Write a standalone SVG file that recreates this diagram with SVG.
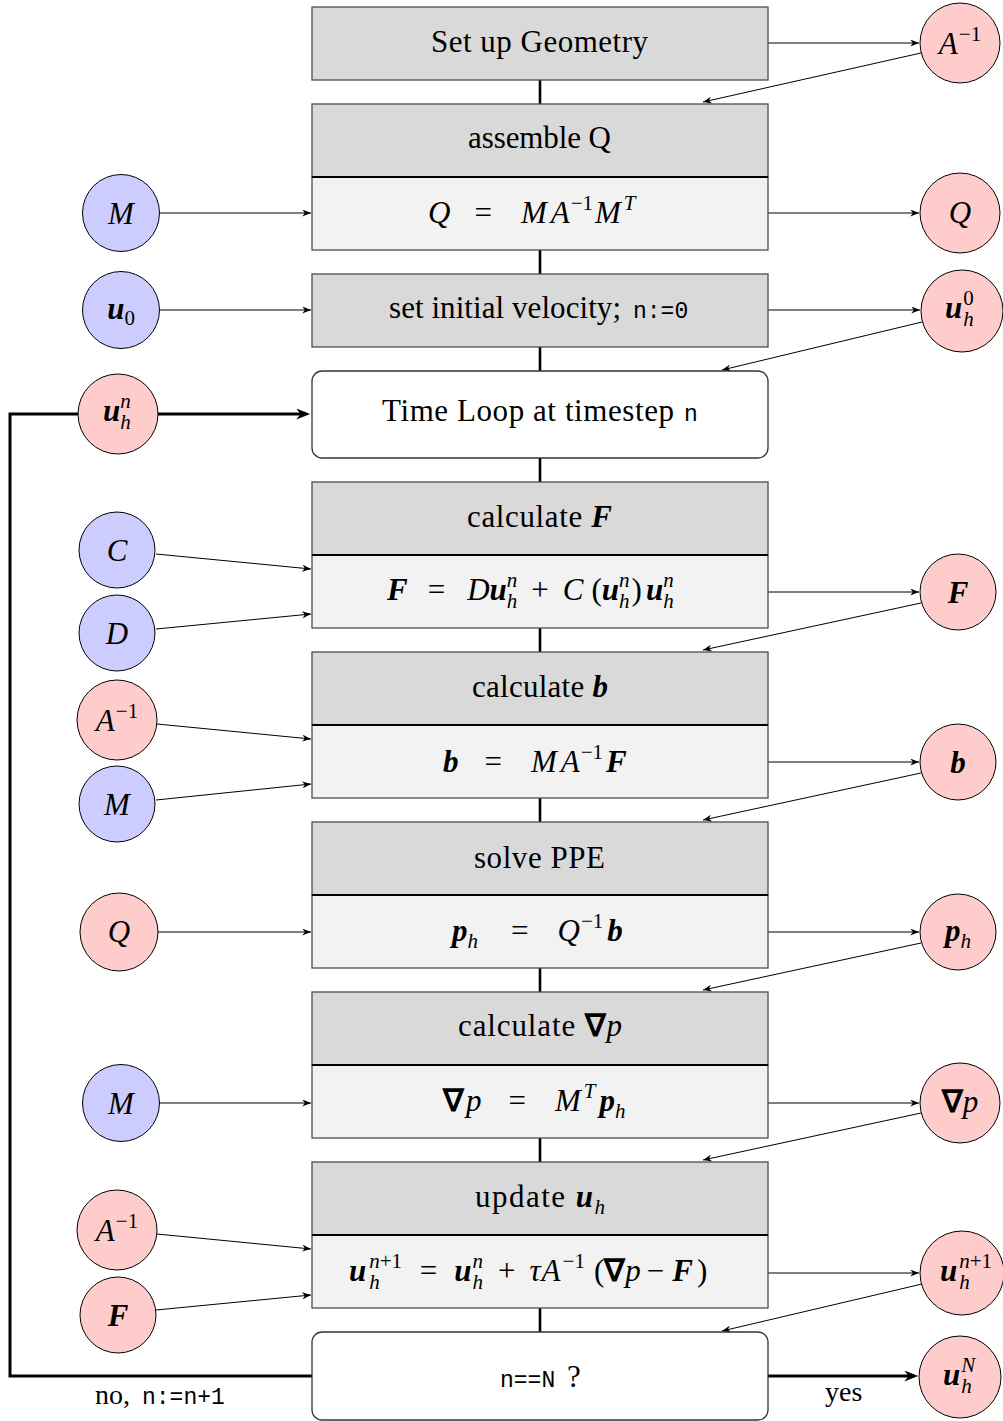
<svg xmlns="http://www.w3.org/2000/svg" width="1003" height="1421" viewBox="0 0 1003 1421">
<defs>
<style>
.t{font-family:"Liberation Serif","Times New Roman",serif;font-size:31px;fill:#000}
.m{font-size:31px}
.i{font-style:italic}
.bi{font-style:italic;font-weight:bold}
.b{font-weight:bold}
.s{font-size:21px}
.tt{font-family:"Liberation Mono",monospace;font-size:23px}
.hd{fill:#d9d9d9;stroke:#4d4d4d;stroke-width:1.3}
.bd{fill:#f2f2f2;stroke:#4d4d4d;stroke-width:1.3}
.rb{fill:#fff;stroke:#333;stroke-width:1.3}
.sep{stroke:#000;stroke-width:2.2}
.cb{fill:#ccccff;stroke:#000;stroke-width:1}
.cr{fill:#ffcccc;stroke:#000;stroke-width:1}
.ln{stroke:#000;stroke-width:1;fill:none}
.vt{stroke:#000;stroke-width:2.6}
.tk{stroke:#000;stroke-width:3;fill:none}
</style>
<marker id="a" viewBox="0 0 10 8" refX="10" refY="4" markerWidth="9" markerHeight="7" markerUnits="userSpaceOnUse" orient="auto"><path d="M0,0 L10,4 L0,8 L3,4 z" fill="#000"/></marker>
<marker id="ak" viewBox="0 0 10 8" refX="7" refY="4" markerWidth="15" markerHeight="11" markerUnits="userSpaceOnUse" orient="auto"><path d="M0,0 L10,4 L0,8 L3,4 z" fill="#000"/></marker>
</defs>

<g id="connectors">
<path class="tk" d="M312,1376 H10 V414 H306" marker-end="url(#ak)"/>
<line class="tk" x1="768" y1="1376" x2="914" y2="1376" marker-end="url(#ak)"/>
<line class="vt" x1="540" y1="80" x2="540" y2="104"/>
<line class="vt" x1="540" y1="250" x2="540" y2="274"/>
<line class="vt" x1="540" y1="347" x2="540" y2="371"/>
<line class="vt" x1="540" y1="458" x2="540" y2="482"/>
<line class="vt" x1="540" y1="628" x2="540" y2="652"/>
<line class="vt" x1="540" y1="798" x2="540" y2="822"/>
<line class="vt" x1="540" y1="968" x2="540" y2="992"/>
<line class="vt" x1="540" y1="1138" x2="540" y2="1162"/>
<line class="vt" x1="540" y1="1308" x2="540" y2="1332"/>
<line class="ln" x1="768" y1="43" x2="919" y2="43" marker-end="url(#a)"/>
<line class="ln" x1="921" y1="53" x2="703" y2="102" marker-end="url(#a)"/>
<line class="ln" x1="768" y1="213" x2="919" y2="213" marker-end="url(#a)"/>
<line class="ln" x1="768" y1="310" x2="920" y2="310" marker-end="url(#a)"/>
<line class="ln" x1="922" y1="322" x2="722" y2="370" marker-end="url(#a)"/>
<line class="ln" x1="768" y1="592" x2="919" y2="592" marker-end="url(#a)"/>
<line class="ln" x1="921" y1="603" x2="703" y2="650" marker-end="url(#a)"/>
<line class="ln" x1="768" y1="762" x2="919" y2="762" marker-end="url(#a)"/>
<line class="ln" x1="921" y1="773" x2="703" y2="820" marker-end="url(#a)"/>
<line class="ln" x1="768" y1="932" x2="919" y2="932" marker-end="url(#a)"/>
<line class="ln" x1="921" y1="943" x2="703" y2="990" marker-end="url(#a)"/>
<line class="ln" x1="768" y1="1103" x2="919" y2="1103" marker-end="url(#a)"/>
<line class="ln" x1="921" y1="1113" x2="703" y2="1160" marker-end="url(#a)"/>
<line class="ln" x1="768" y1="1273" x2="919" y2="1273" marker-end="url(#a)"/>
<line class="ln" x1="922" y1="1284" x2="722" y2="1331" marker-end="url(#a)"/>
<line class="ln" x1="160" y1="213" x2="311" y2="213" marker-end="url(#a)"/>
<line class="ln" x1="160" y1="310" x2="311" y2="310" marker-end="url(#a)"/>
<line class="ln" x1="156" y1="554" x2="311" y2="569" marker-end="url(#a)"/>
<line class="ln" x1="156" y1="629" x2="311" y2="614" marker-end="url(#a)"/>
<line class="ln" x1="157" y1="724" x2="311" y2="739" marker-end="url(#a)"/>
<line class="ln" x1="156" y1="800" x2="311" y2="784" marker-end="url(#a)"/>
<line class="ln" x1="158" y1="932" x2="311" y2="932" marker-end="url(#a)"/>
<line class="ln" x1="160" y1="1103" x2="311" y2="1103" marker-end="url(#a)"/>
<line class="ln" x1="157" y1="1234" x2="311" y2="1249" marker-end="url(#a)"/>
<line class="ln" x1="156" y1="1310" x2="311" y2="1295" marker-end="url(#a)"/>
</g>

<g id="n-geometry">
<rect class="hd" x="312" y="7" width="456" height="73"/>
<text class="t" x="431" y="52" textLength="217" lengthAdjust="spacing">Set up Geometry</text>
</g>
<g id="n-assembleQ">
<rect class="hd" x="312" y="104" width="456" height="73"/>
<rect class="bd" x="312" y="177" width="456" height="73"/>
<line class="sep" x1="312" y1="177" x2="768" y2="177"/>
<text class="t" x="468" y="148" textLength="143" lengthAdjust="spacing">assemble Q</text>
<text class="t m" x="428" y="223"><tspan class="i">Q</tspan><tspan dx="24">=</tspan><tspan class="i" dx="29">M</tspan><tspan class="i" dx="4">A</tspan><tspan class="s" dx="1" dy="-13">−1</tspan><tspan class="i" dx="2" dy="13">M</tspan><tspan class="i s" dx="3" dy="-13">T</tspan></text>
</g>
<g id="n-init">
<rect class="hd" x="312" y="274" width="456" height="73"/>
<text class="t" x="389" y="318" textLength="232" lengthAdjust="spacing">set initial velocity;</text>
<text class="tt" x="633" y="318">n:=0</text>
</g>
<g id="n-timeloop">
<rect class="rb" x="312" y="371" width="456" height="87" rx="10"/>
<text class="t" x="382" y="421" textLength="292" lengthAdjust="spacing">Time Loop at timestep</text>
<text class="tt" x="684" y="421">n</text>
</g>
<g id="n-calcF">
<rect class="hd" x="312" y="482" width="456" height="73"/>
<rect class="bd" x="312" y="555" width="456" height="73"/>
<line class="sep" x1="312" y1="555" x2="768" y2="555"/>
<text class="t" x="467" y="527" textLength="145" lengthAdjust="spacing">calculate <tspan class="bi">F</tspan></text>
<text class="t m" x="387" y="600"><tspan class="bi">F</tspan><tspan dx="20">=</tspan><tspan class="i" dx="22">D</tspan><tspan class="bi">u</tspan><tspan class="i s" dy="-13">n</tspan><tspan class="i s" dx="-10.5" dy="21">h</tspan><tspan dx="14" dy="-8">+</tspan><tspan class="i" dx="14">C</tspan><tspan dx="8">(</tspan><tspan class="bi">u</tspan><tspan class="i s" dy="-13">n</tspan><tspan class="i s" dx="-10.5" dy="21">h</tspan><tspan dx="2" dy="-8">)</tspan><tspan class="bi" dx="4">u</tspan><tspan class="i s" dy="-13">n</tspan><tspan class="i s" dx="-10.5" dy="21">h</tspan></text>
</g>
<g id="n-calcb">
<rect class="hd" x="312" y="652" width="456" height="73"/>
<rect class="bd" x="312" y="725" width="456" height="73"/>
<line class="sep" x1="312" y1="725" x2="768" y2="725"/>
<text class="t" x="472" y="697" textLength="136" lengthAdjust="spacing">calculate <tspan class="bi">b</tspan></text>
<text class="t m" x="443" y="772"><tspan class="bi">b</tspan><tspan dx="26">=</tspan><tspan class="i" dx="29">M</tspan><tspan class="i" dx="4">A</tspan><tspan class="s" dx="1" dy="-13">−1</tspan><tspan class="bi" dx="3" dy="13">F</tspan></text>
</g>
<g id="n-ppe">
<rect class="hd" x="312" y="822" width="456" height="73"/>
<rect class="bd" x="312" y="895" width="456" height="73"/>
<line class="sep" x1="312" y1="895" x2="768" y2="895"/>
<text class="t" x="474" y="868" textLength="131" lengthAdjust="spacing">solve PPE</text>
<text class="t m" x="452" y="941"><tspan class="bi">p</tspan><tspan class="i s" dy="7">h</tspan><tspan dx="33" dy="-7">=</tspan><tspan class="i" dx="29">Q</tspan><tspan class="s" dx="1" dy="-13">−1</tspan><tspan class="bi" dx="4" dy="13">b</tspan></text>
</g>
<g id="n-gradp">
<rect class="hd" x="312" y="992" width="456" height="73"/>
<rect class="bd" x="312" y="1065" width="456" height="73"/>
<line class="sep" x1="312" y1="1065" x2="768" y2="1065"/>
<text class="t" x="458" y="1036" textLength="164" lengthAdjust="spacing">calculate <tspan class="b">∇</tspan><tspan class="i">p</tspan></text>
<text class="t m" x="443" y="1111"><tspan class="b">∇</tspan><tspan class="i" dx="2">p</tspan><tspan dx="27">=</tspan><tspan class="i" dx="29">M</tspan><tspan class="i s" dx="3" dy="-13">T</tspan><tspan class="bi" dx="4" dy="13">p</tspan><tspan class="i s" dy="7">h</tspan></text>
</g>
<g id="n-update">
<rect class="hd" x="312" y="1162" width="456" height="73"/>
<rect class="bd" x="312" y="1235" width="456" height="73"/>
<line class="sep" x1="312" y1="1235" x2="768" y2="1235"/>
<text class="t" x="475" y="1207" textLength="130" lengthAdjust="spacing">update <tspan class="bi">u</tspan><tspan class="i s" dy="7">h</tspan></text>
<text class="t m" x="349" y="1281"><tspan class="bi">u</tspan><tspan class="i s" dx="3" dy="-13">n</tspan><tspan class="s">+1</tspan><tspan class="i s" dx="-32.8" dy="21">h</tspan><tspan dx="40" dy="-8">=</tspan><tspan class="bi" dx="17">u</tspan><tspan class="i s" dx="1" dy="-13">n</tspan><tspan class="i s" dx="-10.5" dy="21">h</tspan><tspan dx="15" dy="-8">+</tspan><tspan class="i" dx="14">τ</tspan><tspan class="i" dx="1">A</tspan><tspan class="s" dx="2" dy="-13">−1</tspan><tspan dx="9" dy="13">(</tspan><tspan class="b">∇</tspan><tspan class="i">p</tspan><tspan dx="6">−</tspan><tspan class="bi" dx="8">F</tspan><tspan dx="4">)</tspan></text>
</g>
<g id="n-check">
<rect class="rb" x="312" y="1332" width="456" height="88" rx="10"/>
<text class="tt" x="500" y="1387">n==N</text>
<text class="t" x="567" y="1387">?</text>
</g>

<g id="labels">
<text class="t" x="95" y="1404" style="font-size:28px">no,</text>
<text class="tt" x="142" y="1404">n:=n+1</text>
<text class="t" x="825" y="1401" style="font-size:28px">yes</text>
</g>

<g id="c-M1"><circle class="cb" cx="121" cy="213" r="38.5"/><text class="t m i" x="121" y="224" text-anchor="middle">M</text></g>
<g id="c-u0"><circle class="cb" cx="121" cy="310" r="38.5"/><text class="t m" x="121" y="319" text-anchor="middle"><tspan class="bi">u</tspan><tspan class="s" dy="6">0</tspan></text></g>
<g id="c-uhn"><circle class="cr" cx="118" cy="414" r="40"/><text class="t m" x="103" y="421"><tspan class="bi">u</tspan><tspan class="i s" dy="-13">n</tspan><tspan class="i s" dx="-10.5" dy="21">h</tspan></text></g>
<g id="c-C"><circle class="cb" cx="117" cy="550" r="38"/><text class="t m i" x="117" y="561" text-anchor="middle">C</text></g>
<g id="c-D"><circle class="cb" cx="117" cy="633" r="38"/><text class="t m i" x="117" y="644" text-anchor="middle">D</text></g>
<g id="c-Ainv1"><circle class="cr" cx="117" cy="720" r="40"/><text class="t m" x="117" y="731" text-anchor="middle"><tspan class="i">A</tspan><tspan class="s" dx="1" dy="-13">−1</tspan></text></g>
<g id="c-M2"><circle class="cb" cx="117" cy="804" r="38"/><text class="t m i" x="117" y="815" text-anchor="middle">M</text></g>
<g id="c-Q1"><circle class="cr" cx="119" cy="932" r="39"/><text class="t m i" x="119" y="942" text-anchor="middle">Q</text></g>
<g id="c-M3"><circle class="cb" cx="121" cy="1103" r="38.5"/><text class="t m i" x="121" y="1114" text-anchor="middle">M</text></g>
<g id="c-Ainv2"><circle class="cr" cx="117" cy="1230" r="40"/><text class="t m" x="117" y="1241" text-anchor="middle"><tspan class="i">A</tspan><tspan class="s" dx="1" dy="-13">−1</tspan></text></g>
<g id="c-F1"><circle class="cr" cx="118" cy="1315" r="38"/><text class="t m bi" x="118" y="1326" text-anchor="middle">F</text></g>

<g id="c-Ainv0"><circle class="cr" cx="960" cy="43" r="40"/><text class="t m" x="960" y="54" text-anchor="middle"><tspan class="i">A</tspan><tspan class="s" dx="1" dy="-13">−1</tspan></text></g>
<g id="c-Q0"><circle class="cr" cx="960" cy="213" r="40"/><text class="t m i" x="960" y="223" text-anchor="middle">Q</text></g>
<g id="c-uh0"><circle class="cr" cx="962" cy="311" r="41"/><text class="t m" x="945" y="318"><tspan class="bi">u</tspan><tspan class="s" dx="1" dy="-13">0</tspan><tspan class="i s" dx="-10.5" dy="21">h</tspan></text></g>
<g id="c-F2"><circle class="cr" cx="958" cy="592" r="38"/><text class="t m bi" x="958" y="603" text-anchor="middle">F</text></g>
<g id="c-b"><circle class="cr" cx="958" cy="762" r="38"/><text class="t m bi" x="958" y="773" text-anchor="middle">b</text></g>
<g id="c-ph"><circle class="cr" cx="958" cy="932" r="38"/><text class="t m" x="958" y="941" text-anchor="middle"><tspan class="bi">p</tspan><tspan class="i s" dy="7">h</tspan></text></g>
<g id="c-gradp"><circle class="cr" cx="960" cy="1103" r="40"/><text class="t m" x="960" y="1112" text-anchor="middle"><tspan class="b">∇</tspan><tspan class="i">p</tspan></text></g>
<g id="c-uhn1"><circle class="cr" cx="962" cy="1273" r="42"/><text class="t m" x="940" y="1281"><tspan class="bi">u</tspan><tspan class="i s" dx="2" dy="-13">n</tspan><tspan class="s">+1</tspan><tspan class="i s" dx="-32.8" dy="21">h</tspan></text></g>
<g id="c-uhN"><circle class="cr" cx="960" cy="1377" r="41"/><text class="t m" x="943" y="1385"><tspan class="bi">u</tspan><tspan class="i s" dx="1" dy="-13">N</tspan><tspan class="i s" dx="-14" dy="21">h</tspan></text></g>
</svg>
